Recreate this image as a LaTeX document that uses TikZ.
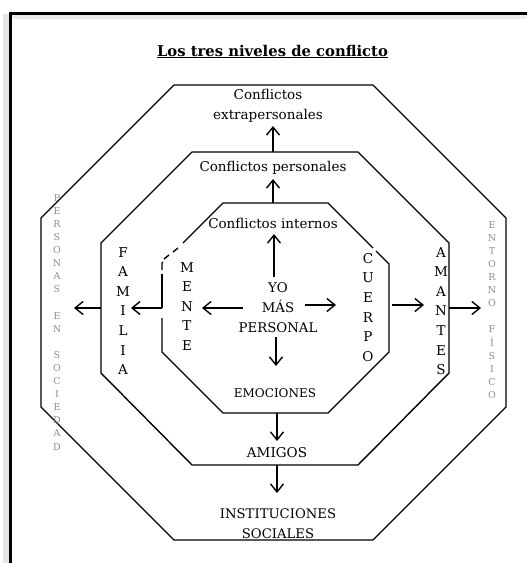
\documentclass[tikz,border=0pt]{standalone}
\usepackage{fontspec}
\setmainfont{DejaVu Serif}
\usetikzlibrary{arrows.meta}
\begin{document}
\begin{tikzpicture}[x=1pt,y=-1pt,
  oct/.style={line width=1.4pt, line join=miter},
  arr/.style={line width=1.4pt, -{Straight Barb[length=8pt,width=13pt]}},
  lbl/.style={inner sep=0pt, font=\fontsize{13.5}{19.7}\selectfont, align=center, anchor=base},
  vlbl/.style={inner sep=0pt, font=\fontsize{13.5}{19.6}\selectfont, align=center, anchor=north},
  glbl/.style={inner sep=0pt, font=\fontsize{9.5}{13.1}\selectfont, align=center, anchor=north, text=black!45},
]
\useasboundingbox (0,0) rectangle (527,563);
% frame with shadow
\fill[black!10] (3,14) rectangle (9.5,563);
\fill[black!8] (9.5,15) rectangle (527,19);
\draw[line width=2.2pt] (10.5,563) -- (10.5,13.5) -- (527,13.5);

% title
\node[inner sep=0pt, anchor=base, font=\bfseries\fontsize{14.8}{17}\selectfont] (title) at (272.5,56) {\underline{Los tres niveles de conflicto}};

% outer octagon
\draw[oct] (174,85) -- (373,85) -- (506,218) -- (506,407) -- (373,540) -- (174,540) -- (41,407) -- (41,218) -- cycle;
% middle octagon
\draw[oct] (192,152) -- (358,152) -- (449,243) -- (449,373) -- (358,465) -- (192,465) -- (101,373) -- (101,243) -- cycle;
% inner octagon (with small breaks)
\draw[oct] (183,243) -- (223,203) -- (328,203) -- (373,248);
\draw[oct] (376,251) -- (389,264) -- (389,352) -- (328,413) -- (223,413) -- (162,352) -- (162,318);
\draw[oct] (162,308) -- (162,274);
\draw[oct] (162,270) -- (162,263) -- (163,262);
\draw[oct] (164,259) -- (169,255);
\draw[oct] (173,252) -- (178,248);

% texts (multi-line nodes: base = baseline of last line)
\node[lbl] (extra) at (268,119) {Conflictos\\extrapersonales};
\node[lbl] (pers) at (273,171) {Conflictos personales};
\node[lbl] (intern) at (273,228) {Conflictos internos};
\node[lbl, font=\fontsize{13.3}{19.7}\selectfont] (yo) at (278,332) {YO\\MÁS\\PERSONAL};
\node[lbl, font=\fontsize{12}{19.7}\selectfont] (emo) at (275,397) {EMOCIONES};
\node[lbl] (amigos) at (277,457) {AMIGOS};
\node[lbl, font=\fontsize{13.2}{20}\selectfont] (inst) at (278,538) {INSTITUCIONES\\SOCIALES};

\node[vlbl] (familia) at (123,247) {F\\A\\M\\I\\L\\I\\A};
\node[vlbl, font=\fontsize{13.5}{19.5}\selectfont] (mente) at (187,262) {M\\E\\N\\T\\E};
\node[vlbl] (cuerpo) at (368,253) {C\\U\\E\\R\\P\\O};
\node[vlbl] (amantes) at (441,247) {A\\M\\A\\N\\T\\E\\S};
\node[glbl] (personas) at (57,194) {P\\E\\R\\S\\O\\N\\A\\S\\\mbox{}\\E\\N\\\mbox{}\\S\\O\\C\\I\\E\\D\\A\\D};
\node[glbl] (entorno) at (492,221) {E\\N\\T\\O\\R\\N\\O\\\mbox{}\\F\\Í\\S\\I\\C\\O};

% arrow end points
\coordinate (midT) at (273,152);
\coordinate (extraB) at (273,126);
\coordinate (inT) at (273,203);
\coordinate (persB) at (273,179);
\coordinate (yoT) at (274,277);
\coordinate (internB) at (274,234);
\coordinate (yoB) at (276,337);
\coordinate (emoT) at (276,366);
\coordinate (yoL) at (243,308);
\coordinate (menteR) at (202,308);
\coordinate (yoR) at (305,305);
\coordinate (cuerpoL) at (336,305);
\coordinate (inL) at (162,308);
\coordinate (familiaR) at (131,308);
\coordinate (midL) at (101,308);
\coordinate (personasR) at (74,308);
\coordinate (inR) at (392,305);
\coordinate (amantesL) at (424,305);
\coordinate (midR) at (449,308);
\coordinate (entornoL) at (481,308);
\coordinate (inB) at (277,413);
\coordinate (amigosT) at (277,441);
\coordinate (midB) at (277,465);
\coordinate (instT) at (277,493);

\draw[arr] (midT) -- (extraB);
\draw[arr] (inT) -- (persB);
\draw[arr] (yoT) -- (internB);
\draw[arr] (yoB) -- (emoT);
\draw[arr] (yoL) -- (menteR);
\draw[arr] (yoR) -- (cuerpoL);
\draw[arr] (inL) -- (familiaR);
\draw[arr] (midL) -- (personasR);
\draw[arr] (inR) -- (amantesL);
\draw[arr] (midR) -- (entornoL);
\draw[arr] (inB) -- (amigosT);
\draw[arr] (midB) -- (instT);
\end{tikzpicture}
\end{document}
